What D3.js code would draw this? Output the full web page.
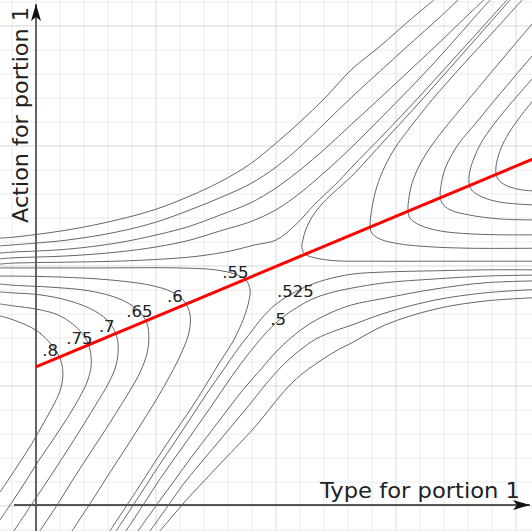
<!DOCTYPE html>
<html>
<head>
<meta charset="utf-8">
<script src="https://cdn.jsdelivr.net/npm/d3@7"></script>
<style>
  body { margin: 0; background: #fff; }
  svg { display: block; }
</style>
</head>
<body>
<svg width="532" height="531"></svg>
<script>
// contour levels
const loopLevels = [0.8, 0.75, 0.7, 0.65, 0.6, 0.55];
const bandLevels = [0.425, 0.45, 0.475, 0.5, 0.525];

// [type, action] points
// loops that open to the left (one per loop level)
const leftLoops = [
  [[-0.075,0.396],[-0.048,0.388],[0.002,0.365],[0.033,0.335],[0.05,0.308],[0.056,0.279],[0.052,0.246],[0.038,0.213],[0.017,0.175],[-0.008,0.131],[-0.033,0.092],[-0.058,0.054],[-0.075,0.029]],
  [[-0.075,0.421],[-0.048,0.417],[0.002,0.41],[0.046,0.398],[0.079,0.377],[0.102,0.352],[0.1125,0.325],[0.115,0.294],[0.108,0.2625],[0.09,0.225],[0.065,0.183],[0.035,0.1375],[0.004,0.092],[-0.025,0.046],[-0.05,0.008],[-0.075,-0.029]],
  [[-0.075,0.446],[-0.048,0.444],[0.008,0.44],[0.071,0.427],[0.123,0.406],[0.154,0.381],[0.169,0.35],[0.171,0.319],[0.165,0.2875],[0.15,0.254],[0.127,0.215],[0.1,0.171],[0.071,0.125],[0.04,0.077],[0.008,0.029],[-0.01,0.002],[-0.046,-0.052]],
  [[-0.075,0.4625],[-0.048,0.46],[0.029,0.456],[0.1125,0.448],[0.175,0.431],[0.2125,0.408],[0.231,0.381],[0.235,0.35],[0.231,0.317],[0.217,0.279],[0.194,0.2375],[0.167,0.194],[0.1375,0.148],[0.106,0.1],[0.075,0.052],[0.044,0.002],[0.008,-0.052]],
  [[-0.075,0.479],[-0.048,0.479],[0.05,0.477],[0.154,0.471],[0.2375,0.46],[0.283,0.446],[0.31,0.425],[0.321,0.398],[0.319,0.3625],[0.304,0.321],[0.281,0.275],[0.254,0.227],[0.223,0.177],[0.19,0.125],[0.156,0.073],[0.123,0.021],[0.075,-0.052]],
  [[-0.075,0.496],[-0.048,0.496],[0.133,0.496],[0.292,0.496],[0.373,0.492],[0.415,0.483],[0.4375,0.471],[0.446,0.45],[0.444,0.429],[0.433,0.392],[0.41,0.342],[0.383,0.3],[0.354,0.252],[0.321,0.2],[0.285,0.148],[0.248,0.092],[0.21,0.033],[0.154,-0.052]]
];

// loops that open to the right (same levels, .8 first)
const rightLoops = [
  [[1.04,0.656],[1.004,0.66],[0.977,0.669],[0.9625,0.681],[0.958,0.696],[0.96,0.717],[0.969,0.746],[0.985,0.777],[1.008,0.81],[1.04,0.85]],
  [[1.04,0.627],[0.967,0.633],[0.929,0.644],[0.908,0.658],[0.902,0.675],[0.904,0.698],[0.9125,0.725],[0.927,0.756],[0.95,0.79],[0.981,0.829],[1.04,0.897]],
  [[1.04,0.596],[0.967,0.598],[0.904,0.606],[0.8625,0.617],[0.846,0.631],[0.842,0.648],[0.844,0.669],[0.85,0.696],[0.8625,0.725],[0.883,0.758],[0.915,0.796],[0.956,0.846],[0.998,0.896],[1.04,0.945]],
  [[1.04,0.565],[0.967,0.565],[0.904,0.567],[0.842,0.573],[0.8,0.585],[0.779,0.6],[0.775,0.619],[0.777,0.642],[0.783,0.671],[0.796,0.704],[0.815,0.7375],[0.842,0.775],[0.883,0.825],[0.935,0.8875],[0.9875,0.95],[1.04,1.012]],
  [[1.04,0.537],[0.904,0.537],[0.821,0.54],[0.758,0.546],[0.717,0.556],[0.7,0.568],[0.696,0.583],[0.7,0.621],[0.71,0.665],[0.727,0.708],[0.748,0.746],[0.775,0.783],[0.825,0.846],[0.8875,0.917],[0.95,0.985],[1.0125,1.054]],
  [[1.04,0.51],[0.867,0.51],[0.708,0.51],[0.623,0.511],[0.581,0.517],[0.56,0.525],[0.554,0.5375],[0.556,0.554],[0.5625,0.577],[0.575,0.602],[0.592,0.625],[0.619,0.652],[0.658,0.6875],[0.727,0.7625],[0.796,0.8375],[0.8625,0.9125],[0.925,0.983],[0.9875,1.054]]
];

// curves above the flat band, going up to the right (.425 first)
const upperCurves = [
  [[-0.075,0.558],[-0.048,0.56],[0.065,0.575],[0.169,0.596],[0.252,0.619],[0.321,0.646],[0.383,0.675],[0.446,0.7125],[0.5,0.756],[0.55,0.8],[0.602,0.85],[0.658,0.91],[0.717,0.958],[0.779,1.0125],[0.829,1.054]],
  [[-0.075,0.542],[-0.048,0.544],[0.065,0.554],[0.169,0.571],[0.252,0.592],[0.321,0.617],[0.383,0.642],[0.446,0.671],[0.5,0.706],[0.55,0.748],[0.602,0.798],[0.658,0.852],[0.717,0.906],[0.779,0.9625],[0.842,1.019],[0.879,1.054]],
  [[-0.075,0.527],[-0.048,0.529],[0.065,0.535],[0.169,0.548],[0.252,0.565],[0.321,0.583],[0.383,0.606],[0.446,0.631],[0.5,0.6625],[0.55,0.7],[0.602,0.744],[0.658,0.796],[0.717,0.85],[0.779,0.908],[0.842,0.967],[0.904,1.027],[0.933,1.054]],
  [[-0.075,0.515],[-0.048,0.517],[0.065,0.521],[0.169,0.529],[0.252,0.54],[0.321,0.554],[0.383,0.573],[0.446,0.592],[0.5,0.617],[0.55,0.652],[0.602,0.696],[0.658,0.748],[0.727,0.817],[0.796,0.8875],[0.8625,0.96],[0.925,1.031],[0.946,1.054]],
  [[-0.075,0.504],[-0.048,0.506],[0.065,0.508],[0.169,0.51],[0.273,0.515],[0.342,0.521],[0.404,0.531],[0.456,0.544],[0.5,0.554],[0.54,0.585],[0.581,0.629],[0.623,0.669],[0.658,0.706],[0.727,0.777],[0.796,0.85],[0.8625,0.923],[0.925,0.992],[0.981,1.054]]
];

// curves below the flat band, going down to the left (.425 first)
const lowerCurves = [
  [[1.04,0.434],[0.935,0.427],[0.831,0.41],[0.727,0.377],[0.658,0.34],[0.625,0.323],[0.598,0.306],[0.567,0.285],[0.535,0.258],[0.5,0.219],[0.465,0.175],[0.425,0.131],[0.3875,0.092],[0.352,0.054],[0.321,0.021],[0.258,-0.052]],
  [[1.04,0.451],[0.935,0.444],[0.831,0.429],[0.727,0.402],[0.658,0.377],[0.623,0.365],[0.583,0.348],[0.548,0.323],[0.515,0.294],[0.479,0.254],[0.444,0.21],[0.408,0.167],[0.373,0.125],[0.3375,0.083],[0.306,0.044],[0.279,0.006],[0.2375,-0.052]],
  [[1.04,0.469],[0.935,0.465],[0.831,0.452],[0.727,0.433],[0.658,0.419],[0.6125,0.402],[0.569,0.379],[0.533,0.352],[0.5,0.321],[0.467,0.283],[0.431,0.242],[0.394,0.194],[0.356,0.144],[0.321,0.098],[0.2875,0.052],[0.254,0.006],[0.2125,-0.052]],
  [[1.04,0.481],[0.935,0.479],[0.831,0.473],[0.727,0.465],[0.658,0.454],[0.6125,0.444],[0.575,0.431],[0.542,0.4125],[0.515,0.394],[0.483,0.365],[0.454,0.331],[0.425,0.294],[0.394,0.25],[0.3625,0.204],[0.329,0.156],[0.292,0.104],[0.258,0.056],[0.227,0.008],[0.1875,-0.052]],
  [[1.04,0.492],[0.935,0.492],[0.831,0.49],[0.727,0.4875],[0.658,0.483],[0.602,0.471],[0.56,0.456],[0.525,0.4375],[0.498,0.419],[0.471,0.392],[0.446,0.36],[0.419,0.325],[0.39,0.283],[0.358,0.2375],[0.325,0.1875],[0.292,0.1375],[0.254,0.081],[0.219,0.027],[0.167,-0.052]]
];

// best response line
const bestAction = [[0, 0.29], [1.04, 0.725]];

// contour labels: text, type, action of the label's start
const labelText = [".8", ".75", ".7", ".65", ".6", ".55", ".525", ".5"];
const labelType = [0.013, 0.063, 0.131, 0.188, 0.273, 0.388, 0.502, 0.488];
const labelAction = [0.3125, 0.3375, 0.3625, 0.394, 0.425, 0.475, 0.435, 0.377];

const svg = d3.select('svg');
const width = +svg.attr('width');
const height = +svg.attr('height');

const x = d3.scaleLinear().domain([0, 1]).range([36, 516]);
const y = d3.scaleLinear().domain([0, 1]).range([506, 26]);

// grid, minor every .05, major every .25
const gridX = d3.range(-1, 22).map(i => i * 0.05);
const gridY = d3.range(-1, 22).map(i => i * 0.05);

const grid = svg.append('g');
grid.selectAll('.gx').data(gridX).enter().append('line')
  .attr('x1', d => x(d)).attr('x2', d => x(d))
  .attr('y1', 0).attr('y2', height)
  .attr('stroke', (d, i) => (i - 1) % 5 === 0 ? '#d9d9d9' : '#ebebeb')
  .attr('stroke-width', 1);
grid.selectAll('.gy').data(gridY).enter().append('line')
  .attr('y1', d => y(d)).attr('y2', d => y(d))
  .attr('x1', 0).attr('x2', width)
  .attr('stroke', (d, i) => (i - 1) % 5 === 0 ? '#d9d9d9' : '#ebebeb')
  .attr('stroke-width', 1);

// contour lines
const line = d3.line()
  .x(d => x(d[0]))
  .y(d => y(d[1]))
  .curve(d3.curveCatmullRom.alpha(0.5));

const allCurves = [
  ...leftLoops.map((pts, i) => ({ level: loopLevels[i], pts })),
  ...rightLoops.map((pts, i) => ({ level: loopLevels[i], pts })),
  ...upperCurves.map((pts, i) => ({ level: bandLevels[i], pts })),
  ...lowerCurves.map((pts, i) => ({ level: bandLevels[i], pts }))
];

svg.append('g')
  .selectAll('path')
  .data(allCurves)
  .enter().append('path')
    .attr('d', d => line(d.pts))
    .attr('fill', 'none')
    .attr('stroke', '#666')
    .attr('stroke-width', 1);

// axes with arrow heads
const defs = svg.append('defs');
defs.append('marker')
  .attr('id', 'arrow')
  .attr('viewBox', '-18 -6 20 12')
  .attr('refX', 0).attr('refY', 0)
  .attr('markerWidth', 20).attr('markerHeight', 12)
  .attr('markerUnits', 'userSpaceOnUse')
  .attr('orient', 'auto')
  .append('path')
    .attr('d', 'M0,0 L-17,-5 L-13,0 L-17,5 Z')
    .attr('fill', '#111');

const axes = svg.append('g')
  .attr('stroke', '#555')
  .attr('stroke-width', 1.8);
axes.append('line')
  .attr('x1', x(0)).attr('x2', x(0))
  .attr('y1', height).attr('y2', 4)
  .attr('marker-end', 'url(#arrow)');
axes.append('line')
  .attr('x1', 14).attr('x2', 530)
  .attr('y1', y(0) - 1).attr('y2', y(0) - 1)
  .attr('marker-end', 'url(#arrow)');

// red line
svg.append('path')
  .datum(bestAction)
  .attr('d', d3.line().x(d => x(d[0])).y(d => y(d[1])))
  .attr('stroke', '#ff0000')
  .attr('stroke-width', 3)
  .attr('fill', 'none');

// contour labels
svg.append('g')
  .selectAll('text')
  .data(labelText)
  .enter().append('text')
    .attr('x', (d, i) => x(labelType[i]))
    .attr('y', (d, i) => y(labelAction[i]))
    .attr('font-family', 'DejaVu Sans')
    .attr('font-size', 16.5)
    .attr('fill', '#222')
    .text(d => d);

// axis titles
svg.append('text')
  .attr('x', 320).attr('y', 498)
  .attr('font-family', 'DejaVu Sans')
  .attr('font-size', 22)
  .attr('textLength', 200)
  .attr('lengthAdjust', 'spacingAndGlyphs')
  .attr('fill', '#222')
  .text('Type for portion 1');

svg.append('text')
  .attr('transform', 'translate(28, 223) rotate(-90)')
  .attr('font-family', 'DejaVu Sans')
  .attr('font-size', 22)
  .attr('textLength', 216)
  .attr('lengthAdjust', 'spacingAndGlyphs')
  .attr('fill', '#222')
  .text('Action for portion 1');
</script>
</body>
</html>
